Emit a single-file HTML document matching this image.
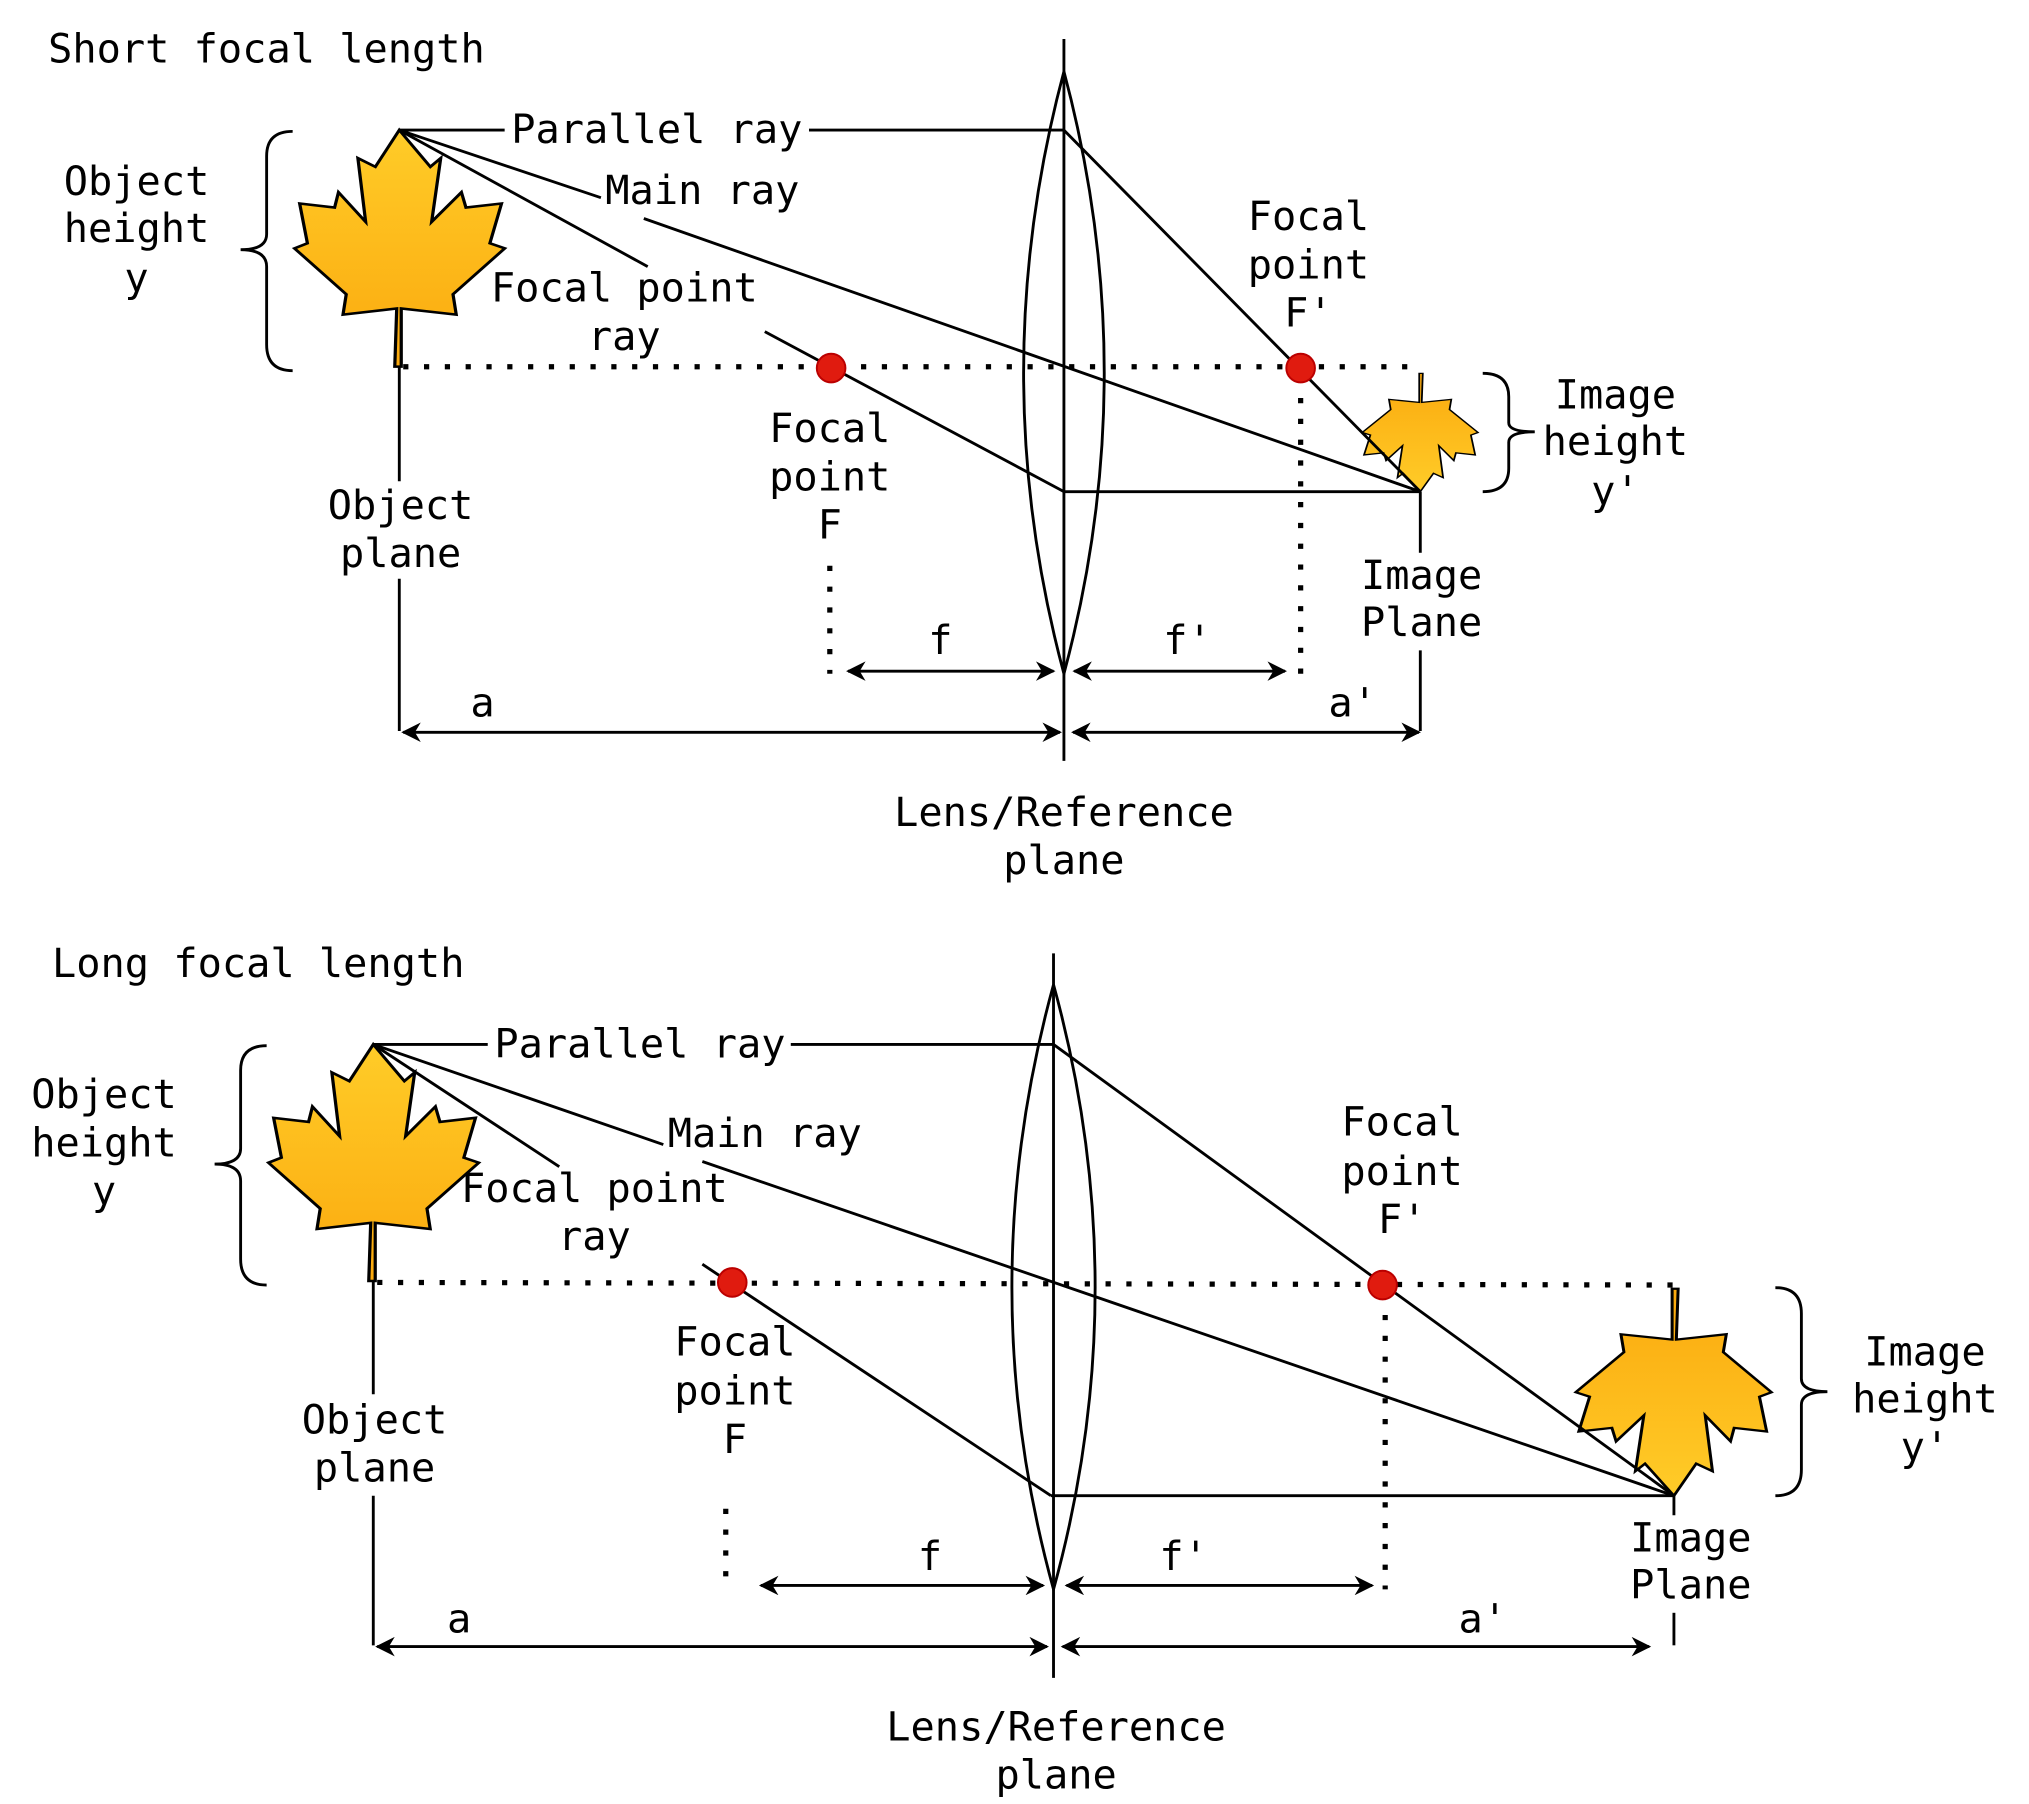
<!DOCTYPE html>
<html><head><meta charset="utf-8"><style>html,body{margin:0;padding:0;background:#fff}svg{display:block}</style></head>
<body>
<svg width="2029" height="1804" viewBox="0 0 1560 1387" xmlns="http://www.w3.org/2000/svg">
<defs>
<linearGradient id="g" x1="0" y1="0" x2="0" y2="1"><stop offset="0" stop-color="#FFCC28"/><stop offset="1" stop-color="#FBA90E"/></linearGradient>
<path id="leaf" transform="translate(-612,-258)" d="M612,258 L660,330 L676,313 L662,438 L708,380 L715,410 L770,402 L752,480 L775,490 L695,580 L700,620 L615,608 L615,722 L605,722 L608,608 L525,620 L530,580 L450,490 L470,480 L458,402 L512,410 L518,380 L560,438 L548,313 L575,330 Z" fill="url(#g)" stroke="#000" stroke-width="5" stroke-linejoin="miter"/>
<marker id="ah" viewBox="0 0 10 10" refX="9" refY="5" markerWidth="20" markerHeight="15" orient="auto-start-reverse" markerUnits="userSpaceOnUse"><path d="M0,0 L10,5 L0,10 L3,5 Z" fill="#000"/></marker>
</defs>
<style>
text{font-family:"DejaVu Sans Mono","Liberation Mono",monospace;font-size:31px;fill:#000}
.c{text-anchor:middle}
line,path.l{stroke:#000;stroke-width:2.2;fill:none}
.d{stroke-dasharray:4,12;stroke-width:4}
</style>

<!-- TOP -->
<text x="37" y="48">Short focal length</text>
<use href="#leaf" transform="translate(307,100) scale(0.4975,0.392)"/>
<use href="#leaf" transform="translate(1092,378) rotate(180) scale(0.274,0.196)"/>
<path class="l" d="M818,55 Q880,287 818,518 Q756,287 818,55"/>
<line x1="818" y1="30" x2="818" y2="585"/>
<line x1="307" y1="100" x2="388" y2="100"/><line x1="622" y1="100" x2="818" y2="100"/><line x1="818" y1="100" x2="1092" y2="378"/>
<line x1="307" y1="100" x2="462" y2="152"/><line x1="495" y1="168" x2="1092" y2="378"/>
<line x1="307" y1="100" x2="498" y2="205"/><line x1="588" y1="255" x2="818" y2="378"/><line x1="818" y1="378" x2="1092" y2="378"/>
<line class="d" x1="310" y1="282" x2="1093" y2="282"/>
<line class="d" x1="1000" y1="290" x2="1000" y2="518"/>
<line class="d" x1="638" y1="435" x2="638" y2="518"/>
<circle cx="639" cy="283" r="11" fill="#e01b0f" stroke="#b00" stroke-width="1.5"/>
<circle cx="1000" cy="283" r="11" fill="#e01b0f" stroke="#b00" stroke-width="1.5"/>
<line x1="307" y1="282" x2="307" y2="370"/><line x1="307" y1="445" x2="307" y2="562"/>
<line x1="1092" y1="378" x2="1092" y2="425"/><line x1="1092" y1="500" x2="1092" y2="562"/>
<line x1="652" y1="516" x2="810" y2="516" marker-start="url(#ah)" marker-end="url(#ah)"/>
<line x1="826" y1="516" x2="988" y2="516" marker-start="url(#ah)" marker-end="url(#ah)"/>
<line x1="310" y1="563" x2="815" y2="563" marker-start="url(#ah)" marker-end="url(#ah)"/>
<line x1="825" y1="563" x2="1091" y2="563" marker-start="url(#ah)" marker-end="url(#ah)"/>
<path class="l" d="M225,101 Q205,101 205,120 L205,180 Q205,192 185,192 Q205,192 205,205 L205,265 Q205,285 225,285"/>
<path class="l" d="M1140,287 Q1160,287 1160,305 L1160,325 Q1160,332 1180,332 Q1160,332 1160,340 L1160,360 Q1160,378 1140,378"/>
<text class="c" x="505" y="110">Parallel ray</text>
<text class="c" x="540" y="157">Main ray</text>
<text class="c" x="480" y="232">Focal point</text><text class="c" x="480" y="269">ray</text>
<text class="c" x="105" y="150">Object</text><text class="c" x="105" y="186">height</text><text class="c" x="105" y="224">y</text>
<text class="c" x="1006" y="177">Focal</text><text class="c" x="1006" y="214">point</text><text class="c" x="1006" y="251">F'</text>
<text class="c" x="1242" y="314">Image</text><text class="c" x="1242" y="350">height</text><text class="c" x="1242" y="388">y'</text>
<text class="c" x="638" y="340">Focal</text><text class="c" x="638" y="377">point</text><text class="c" x="638" y="414">F</text>
<text class="c" x="308" y="399">Object</text><text class="c" x="308" y="436">plane</text>
<text class="c" x="1093" y="453">Image</text><text class="c" x="1093" y="489">Plane</text>
<text class="c" x="723" y="503">f</text><text class="c" x="913" y="503">f'</text>
<text class="c" x="371" y="551">a</text><text class="c" x="1040" y="551">a'</text>
<text class="c" x="818" y="635">Lens/Reference</text><text class="c" x="818" y="672">plane</text>

<!-- BOTTOM -->
<text x="40" y="751">Long focal length</text>
<use href="#leaf" transform="translate(287,803) scale(0.4975,0.392)"/>
<use href="#leaf" transform="translate(1287,1150) rotate(180) scale(0.463,0.343)"/>
<path class="l" d="M810,757 Q874,990 810,1222 Q746,990 810,757"/>
<line x1="810" y1="733" x2="810" y2="1290"/>
<line x1="287" y1="803" x2="375" y2="803"/><line x1="608" y1="803" x2="810" y2="803"/><line x1="810" y1="803" x2="1287" y2="1150"/>
<line x1="287" y1="803" x2="510" y2="880"/><line x1="540" y1="893" x2="1287" y2="1150"/>
<line x1="287" y1="803" x2="430" y2="897"/><line x1="540" y1="972" x2="808" y2="1150"/><line x1="808" y1="1150" x2="1287" y2="1150"/>
<line class="d" x1="290" y1="986" x2="1290" y2="988"/>
<line class="d" x1="1065" y1="995" x2="1065" y2="1222"/>
<line class="d" x1="558" y1="1160" x2="558" y2="1222"/>
<circle cx="563" cy="986" r="11" fill="#e01b0f" stroke="#b00" stroke-width="1.5"/>
<circle cx="1063" cy="988" r="11" fill="#e01b0f" stroke="#b00" stroke-width="1.5"/>
<line x1="287" y1="985" x2="287" y2="1072"/><line x1="287" y1="1150" x2="287" y2="1265"/>
<line x1="1287" y1="1150" x2="1287" y2="1165"/><line x1="1287" y1="1240" x2="1287" y2="1265"/>
<line x1="585" y1="1219" x2="802" y2="1219" marker-start="url(#ah)" marker-end="url(#ah)"/>
<line x1="820" y1="1219" x2="1055" y2="1219" marker-start="url(#ah)" marker-end="url(#ah)"/>
<line x1="290" y1="1266" x2="805" y2="1266" marker-start="url(#ah)" marker-end="url(#ah)"/>
<line x1="817" y1="1266" x2="1268" y2="1266" marker-start="url(#ah)" marker-end="url(#ah)"/>
<path class="l" d="M205,804 Q185,804 185,823 L185,883 Q185,895 165,895 Q185,895 185,908 L185,968 Q185,988 205,988"/>
<path class="l" d="M1365,990 Q1385,990 1385,1010 L1385,1060 Q1385,1070 1405,1070 Q1385,1070 1385,1080 L1385,1130 Q1385,1150 1365,1150"/>
<text class="c" x="492" y="813">Parallel ray</text>
<text class="c" x="588" y="882">Main ray</text>
<text class="c" x="457" y="924">Focal point</text><text class="c" x="457" y="961">ray</text>
<text class="c" x="80" y="852">Object</text><text class="c" x="80" y="889">height</text><text class="c" x="80" y="926">y</text>
<text class="c" x="1078" y="873">Focal</text><text class="c" x="1078" y="911">point</text><text class="c" x="1078" y="948">F'</text>
<text class="c" x="1480" y="1050">Image</text><text class="c" x="1480" y="1086">height</text><text class="c" x="1480" y="1123">y'</text>
<text class="c" x="565" y="1042">Focal</text><text class="c" x="565" y="1080">point</text><text class="c" x="565" y="1117">F</text>
<text class="c" x="288" y="1102">Object</text><text class="c" x="288" y="1139">plane</text>
<text class="c" x="1300" y="1193">Image</text><text class="c" x="1300" y="1229">Plane</text>
<text class="c" x="715" y="1207">f</text><text class="c" x="910" y="1207">f'</text>
<text class="c" x="353" y="1255">a</text><text class="c" x="1140" y="1255">a'</text>
<text class="c" x="812" y="1338">Lens/Reference</text><text class="c" x="812" y="1375">plane</text>
</svg>
</body></html>
